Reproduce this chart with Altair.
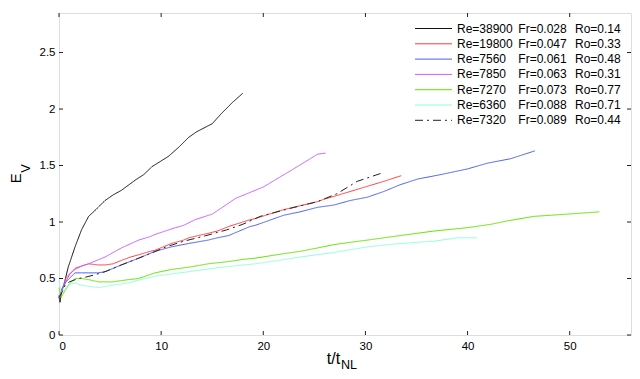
import altair as alt
import pandas as pd

# ---- data ----
series_re = ["38900", "19800", "7560", "7850", "7270", "6360", "7320"]
series_fr = ["0.028", "0.047", "0.061", "0.063", "0.073", "0.088", "0.089"]
series_ro = ["0.14", "0.33", "0.48", "0.31", "0.77", "0.71", "0.44"]
series_colors = ["#111111", "#ff3b3b", "#4a5ff0", "#cc5cff", "#5ee600", "#8effdc", "#222222"]
series_widths = [1, 1, 1, 1, 2, 1, 1.1]
series_dash = [[1, 0], [1, 0], [1, 0], [1, 0], [1, 0], [1, 0], [8, 4, 2, 4]]

t_black = [0, 0.1, 0.26, 0.5, 0.9, 1.57, 2.2, 2.9, 3.5, 4.5, 5.3, 6.1, 7.45, 8.3, 9.1, 10.7, 11.7, 12.7, 13.5, 15.0, 15.9, 17.0, 18.0]
e_black = [0.35, 0.29, 0.40, 0.45, 0.60, 0.78, 0.93, 1.05, 1.10, 1.19, 1.24, 1.28, 1.37, 1.42, 1.49, 1.58, 1.66, 1.75, 1.80, 1.87, 1.96, 2.06, 2.14]

t_red = [0, 0.3, 0.6, 1.0, 1.57, 2.2, 2.9, 3.8, 4.5, 5.3, 6.1, 7.0, 7.8, 8.9, 9.4, 11.0, 12.2, 12.7, 14.6, 15.5, 16.6, 18.7, 19.2, 22.0, 25.3, 25.9, 28.5, 31.8, 33.5]
e_red = [0.32, 0.40, 0.46, 0.53, 0.59, 0.61, 0.63, 0.62, 0.62, 0.63, 0.66, 0.69, 0.71, 0.74, 0.75, 0.81, 0.84, 0.86, 0.90, 0.92, 0.96, 1.02, 1.03, 1.11, 1.18, 1.20, 1.27, 1.36, 1.41]

t_blue = [0, 0.3, 0.6, 1.0, 1.57, 2.2, 2.9, 3.8, 4.5, 5.3, 6.1, 7.8, 9.4, 11.0, 12.7, 14.6, 15.5, 16.6, 18.7, 19.2, 22.0, 23.6, 25.3, 26.9, 28.5, 30.2, 31.8, 33.4, 35.1, 37.4, 40.0, 41.9, 44.2, 46.6]
e_blue = [0.33, 0.40, 0.46, 0.50, 0.55, 0.55, 0.55, 0.55, 0.56, 0.59, 0.62, 0.68, 0.74, 0.78, 0.81, 0.84, 0.86, 0.88, 0.96, 0.97, 1.06, 1.09, 1.13, 1.15, 1.19, 1.22, 1.27, 1.33, 1.38, 1.42, 1.47, 1.52, 1.56, 1.63]

t_magenta = [0, 0.3, 0.6, 1.0, 1.57, 2.2, 2.9, 4.5, 6.1, 7.8, 8.9, 9.4, 11.4, 12.2, 13.3, 15.0, 16.0, 17.3, 19.2, 20.0, 22.6, 24.6, 25.3, 26.1]
e_magenta = [0.33, 0.40, 0.49, 0.54, 0.58, 0.61, 0.63, 0.69, 0.77, 0.84, 0.87, 0.89, 0.95, 0.97, 1.02, 1.07, 1.13, 1.21, 1.28, 1.31, 1.45, 1.56, 1.60, 1.61]

t_green = [0, 0.2, 0.5, 1.0, 1.57, 2.2, 2.9, 3.9, 5.2, 6.0, 6.8, 7.8, 9.4, 11.0, 12.7, 14.6, 16.6, 18.1, 19.2, 22.0, 23.6, 25.3, 26.9, 28.5, 30.2, 33.4, 36.7, 40.0, 42.3, 43.9, 46.5, 49.8, 52.9]
e_green = [0.42, 0.33, 0.38, 0.45, 0.50, 0.50, 0.49, 0.47, 0.47, 0.48, 0.49, 0.50, 0.55, 0.58, 0.60, 0.63, 0.65, 0.67, 0.68, 0.72, 0.74, 0.77, 0.80, 0.82, 0.84, 0.88, 0.92, 0.95, 0.98, 1.01, 1.05, 1.07, 1.09]

t_cyan = [0, 0.2, 0.5, 1.0, 1.57, 2.2, 2.9, 3.9, 5.2, 6.8, 8.0, 9.4, 11.0, 12.7, 15.9, 19.2, 21.5, 23.6, 26.9, 30.2, 33.4, 36.7, 39.0, 40.9]
e_cyan = [0.48, 0.38, 0.40, 0.45, 0.46, 0.44, 0.43, 0.42, 0.44, 0.46, 0.49, 0.52, 0.54, 0.56, 0.60, 0.63, 0.66, 0.69, 0.73, 0.78, 0.81, 0.83, 0.86, 0.86]

t_dashdot = [0, 0.3, 0.6, 1.0, 1.9, 2.5, 3.4, 4.5, 6.1, 7.8, 8.9, 10.5, 12.2, 14.0, 16.4, 18.0, 19.7, 22.6, 25.3, 27.2, 29.2, 31.5]
e_dashdot = [0.33, 0.38, 0.44, 0.47, 0.50, 0.51, 0.53, 0.56, 0.62, 0.68, 0.72, 0.78, 0.83, 0.87, 0.93, 0.98, 1.05, 1.12, 1.18, 1.25, 1.36, 1.43]

x_ticks = [0, 10, 20, 30, 40, 50]
y_ticks = [0, 0.5, 1, 1.5, 2, 2.5]
x_domain = [0, 56]
y_domain = [0, 2.85]

# ---- build tables ----
all_t = [t_black, t_red, t_blue, t_magenta, t_green, t_cyan, t_dashdot]
all_e = [e_black, e_red, e_blue, e_magenta, e_green, e_cyan, e_dashdot]
keys = [f"s{i}" for i in range(len(series_re))]

rows = []
for k, ts, es in zip(keys, all_t, all_e):
    for j, (t, e) in enumerate(zip(ts, es)):
        rows.append({"series": k, "t": t, "E": e, "ord": j})
df = pd.DataFrame(rows)

leg = pd.DataFrame({
    "series": keys,
    "row": list(range(len(keys))),
    "re": ["Re=" + r for r in series_re],
    "fr": ["Fr=" + f for f in series_fr],
    "ro": ["Ro=" + r for r in series_ro],
})

FONT = "Liberation Sans"
color = alt.Color("series:N", scale=alt.Scale(domain=keys, range=series_colors), legend=None)
dash = alt.StrokeDash("series:N", scale=alt.Scale(domain=keys, range=series_dash), legend=None)
width = alt.StrokeWidth("series:N", scale=alt.Scale(domain=keys, range=series_widths), legend=None)

xs = alt.Scale(domain=x_domain, nice=False, zero=False)
ys = alt.Scale(domain=y_domain, nice=False, zero=False)

lines = alt.Chart(df).mark_line(strokeCap="butt").encode(
    x=alt.X("t:Q", scale=xs, axis=alt.Axis(values=x_ticks, title=None, ticks=False, domain=False,
                                             grid=False, labelPadding=5, labelFontSize=11.5, format="~g",
                                             labelFont=FONT, labelColor="black")),
    y=alt.Y("E:Q", scale=ys, axis=alt.Axis(values=y_ticks, title=None, ticks=False, domain=False,
                                             grid=False, labelPadding=4, labelFontSize=11.5, format="~g",
                                             labelFont=FONT, labelColor="black")),
    color=color, strokeDash=dash, strokeWidth=width, order="ord:Q", detail="series:N",
)

xt = pd.DataFrame({"v": x_ticks})
yt = pd.DataFrame({"v": y_ticks})
tick_style = dict(color="#222222", strokeWidth=1)
bt = alt.Chart(xt).mark_rule(**tick_style).encode(x=alt.X("v:Q", scale=xs), y=alt.value(322), y2=alt.value(318))
tt = alt.Chart(xt).mark_rule(**tick_style).encode(x=alt.X("v:Q", scale=xs), y=alt.value(0), y2=alt.value(4))
lt = alt.Chart(yt).mark_rule(**tick_style).encode(y=alt.Y("v:Q", scale=ys), x=alt.value(0), x2=alt.value(4))
rt = alt.Chart(yt).mark_rule(**tick_style).encode(y=alt.Y("v:Q", scale=ys), x=alt.value(572), x2=alt.value(568))

main = alt.layer(lines, bt, tt, lt, rt)

ly = alt.Y("row:O", axis=None, scale=alt.Scale(type="point", range=[15.5, 107.3], padding=0))
leg_lines = alt.Chart(leg).mark_rule(strokeCap="butt").encode(
    y=ly, x=alt.value(356), x2=alt.value(393), color=color, strokeDash=dash, strokeWidth=width)
txt = dict(font=FONT, fontSize=12, align="left", baseline="middle", color="black")
leg_re = alt.Chart(leg).mark_text(**txt).encode(y=ly, x=alt.value(398), text="re:N")
leg_fr = alt.Chart(leg).mark_text(**txt).encode(y=ly, x=alt.value(459.3), text="fr:N")
leg_ro = alt.Chart(leg).mark_text(**txt).encode(y=ly, x=alt.value(516), text="ro:N")
legend = alt.layer(leg_lines, leg_re, leg_fr, leg_ro)

one = pd.DataFrame({"a": [0]})
ylab_e = alt.Chart(one).mark_text(text="E", font=FONT, fontSize=15, angle=270, align="center",
                                  baseline="middle", color="black").encode(x=alt.value(-43.5), y=alt.value(165.3))
ylab_v = alt.Chart(one).mark_text(text="V", font=FONT, fontSize=13, angle=270, align="center",
                                  baseline="middle", color="black").encode(x=alt.value(-33), y=alt.value(155.5))
xlab_t = alt.Chart(one).mark_text(text="t/t", font=FONT, fontSize=16, align="center",
                                  baseline="middle", color="black").encode(x=alt.value(274.5), y=alt.value(345.5))
xlab_nl = alt.Chart(one).mark_text(text="NL", font=FONT, fontSize=12.5, align="center",
                                   baseline="middle", color="black").encode(x=alt.value(290), y=alt.value(352))
labels = alt.layer(ylab_e, ylab_v, xlab_t, xlab_nl)

chart = alt.layer(main, legend, labels).resolve_scale(y="independent").properties(
    width=572, height=322,
    autosize=alt.AutoSizeParams(type="none"),
    padding={"left": 51, "top": 5, "right": 1, "bottom": 36},
).configure_view(stroke="#222222", strokeWidth=1).configure(background="white")

chart.save("out.html", embed_options={"renderer": "svg", "actions": False})
